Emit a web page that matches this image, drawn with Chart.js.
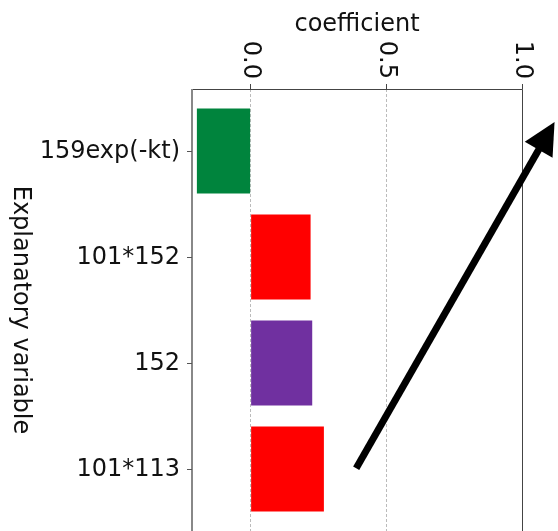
<!DOCTYPE html>
<html lang="en">
<head>
    <meta charset="UTF-8">
    <title>Explanatory variable coefficients</title>
    <script src="https://cdn.jsdelivr.net/npm/chart.js@4.4.1/dist/chart.umd.min.js"></script>
    <style>
        body, html {
            margin: 0;
            padding: 0;
            background: #fff;
        }
        canvas {
            display: block;
        }
    </style>
</head>
<body>
    <canvas id="myChart" width="558" height="531"></canvas>

    <script>
        // Chart values
        const categories = ['159exp(-kt)', '101*152', '152', '101*113'];
        const coefficients = [-0.198, 0.221, 0.227, 0.270];
        const barColors = ['#00843D', '#FF0000', '#7030A0', '#FF0000'];
        const xTicks = [0.0, 0.5, 1.0];
        const xTickLabels = ['0.0', '0.5', '1.0'];
        const xTitle = 'coefficient';
        const yTitle = 'Explanatory variable';

        // Annotation arrow, in data units (x: coefficient, y: category index)
        const arrowTail = [0.389, 2.993];
        const arrowTip = [1.12, -0.274];

        Chart.defaults.font.family = 'DejaVu Sans';

        // Draws the spines, rotated tick labels, titles and the arrow
        const decorations = {
            id: 'decorations',
            afterDraw(chart) {
                const ctx = chart.ctx;
                const area = chart.chartArea;
                const xs = chart.scales.x;
                const ys = chart.scales.y;
                ctx.save();

                // spines
                ctx.strokeStyle = '#444';
                ctx.lineWidth = 1;
                ctx.beginPath();
                ctx.moveTo(area.left, area.top + 0.5);
                ctx.lineTo(area.right + 0.5, area.top + 0.5);
                ctx.lineTo(area.right + 0.5, area.bottom);
                ctx.stroke();
                ctx.strokeStyle = '#888';
                ctx.lineWidth = 2;
                ctx.beginPath();
                ctx.moveTo(area.left, area.top);
                ctx.lineTo(area.left, area.bottom);
                ctx.stroke();

                // y tick marks and labels
                ctx.fillStyle = '#111';
                ctx.font = '24px "DejaVu Sans"';
                ctx.textAlign = 'right';
                ctx.textBaseline = 'middle';
                categories.forEach((c, i) => {
                    const py = Math.round(ys.getPixelForValue(i)) + 0.5;
                    ctx.strokeStyle = '#555';
                    ctx.lineWidth = 1;
                    ctx.beginPath();
                    ctx.moveTo(area.left - 5, py);
                    ctx.lineTo(area.left, py);
                    ctx.stroke();
                    ctx.fillText(c, area.left - 12, py);
                });

                // x tick labels, turned clockwise
                xTicks.forEach((v, i) => {
                    const px = xs.getPixelForValue(v);
                    ctx.save();
                    ctx.translate(px, area.top - 10);
                    ctx.rotate(Math.PI / 2);
                    ctx.textAlign = 'right';
                    ctx.textBaseline = 'middle';
                    ctx.fillText(xTickLabels[i], 0, 0);
                    ctx.restore();
                });

                // axis titles
                ctx.textAlign = 'center';
                ctx.textBaseline = 'alphabetic';
                ctx.fillText(xTitle, (area.left + area.right) / 2, 31);
                ctx.save();
                ctx.translate(20, (area.top + area.bottom) / 2);
                ctx.rotate(Math.PI / 2);
                ctx.textBaseline = 'middle';
                ctx.fillText(yTitle, 0, 0);
                ctx.restore();

                // arrow
                const x0 = xs.getPixelForValue(arrowTail[0]);
                const y0 = ys.getPixelForValue(arrowTail[1]);
                const x1 = xs.getPixelForValue(arrowTip[0]);
                const y1 = ys.getPixelForValue(arrowTip[1]);
                const len = Math.hypot(x1 - x0, y1 - y0);
                const ux = (x1 - x0) / len, uy = (y1 - y0) / len;
                const headLen = 32, headHalf = 16;
                const bx = x1 - ux * headLen, by = y1 - uy * headLen;
                ctx.strokeStyle = '#000';
                ctx.fillStyle = '#000';
                ctx.lineWidth = 7;
                ctx.lineCap = 'butt';
                ctx.beginPath();
                ctx.moveTo(x0, y0);
                ctx.lineTo(bx + ux * 2, by + uy * 2);
                ctx.stroke();
                ctx.beginPath();
                ctx.moveTo(x1, y1);
                ctx.lineTo(bx - uy * headHalf, by + ux * headHalf);
                ctx.lineTo(bx + uy * headHalf, by - ux * headHalf);
                ctx.closePath();
                ctx.fill();

                ctx.restore();
            }
        };

        const ctx = document.getElementById('myChart').getContext('2d');
        const myChart = new Chart(ctx, {
            type: 'bar',
            data: {
                datasets: [{
                    data: coefficients.map((v, i) => ({ x: v, y: i })),
                    backgroundColor: barColors,
                    borderWidth: 0,
                    barPercentage: 0.8,
                    categoryPercentage: 1.0
                }]
            },
            options: {
                indexAxis: 'y',
                responsive: false,
                animation: false,
                layout: {
                    padding: { top: 0, left: 0, right: 36, bottom: 0 }
                },
                plugins: {
                    legend: { display: false },
                    tooltip: { enabled: false }
                },
                scales: {
                    x: {
                        type: 'linear',
                        position: 'top',
                        min: -0.216,
                        max: 1.0,
                        afterBuildTicks: (scale) => {
                            scale.ticks = xTicks.map(v => ({ value: v }));
                        },
                        afterFit: (scale) => {
                            scale.height = 89;
                        },
                        ticks: { display: false },
                        grid: {
                            color: '#bbbbbb',
                            lineWidth: 1,
                            tickLength: 5,
                            tickColor: '#444',
                            tickBorderDash: []
                        },
                        border: { display: false, dash: [3, 2] }
                    },
                    y: {
                        type: 'linear',
                        reverse: true,
                        offset: false,
                        min: -0.585,
                        max: 3.585,
                        afterBuildTicks: (scale) => {
                            scale.ticks = categories.map((c, i) => ({ value: i }));
                        },
                        afterFit: (scale) => {
                            scale.width = 192;
                        },
                        ticks: { display: false },
                        grid: { display: false, offset: false },
                        border: { display: false }
                    }
                }
            },
            plugins: [decorations]
        });
    </script>
</body>
</html>
